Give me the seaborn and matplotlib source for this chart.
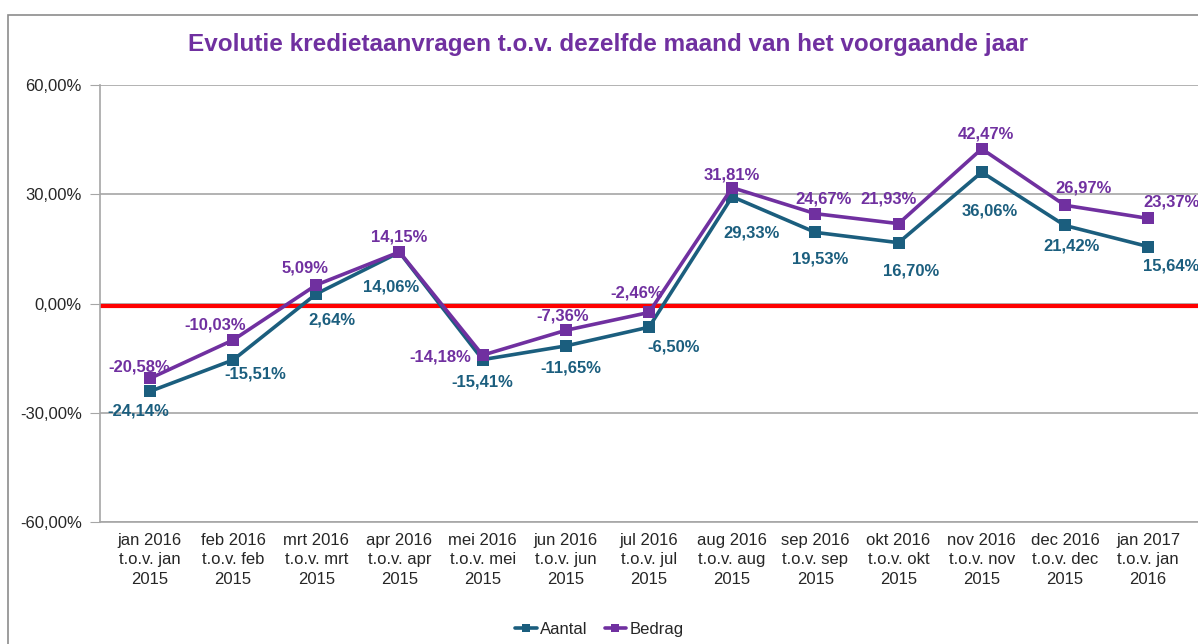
import pandas as pd
import matplotlib
matplotlib.use("Agg")
import matplotlib.pyplot as plt
import seaborn as sns
from matplotlib.patches import Rectangle

# Chart values
categories = [
    "jan 2016\nt.o.v. jan\n2015", "feb 2016\nt.o.v. feb\n2015", "mrt 2016\nt.o.v. mrt\n2015",
    "apr 2016\nt.o.v. apr\n2015", "mei 2016\nt.o.v. mei\n2015", "jun 2016\nt.o.v. jun\n2015",
    "jul 2016\nt.o.v. jul\n2015", "aug 2016\nt.o.v. aug\n2015", "sep 2016\nt.o.v. sep\n2015",
    "okt 2016\nt.o.v. okt\n2015", "nov 2016\nt.o.v. nov\n2015", "dec 2016\nt.o.v. dec\n2015",
    "jan 2017\nt.o.v. jan\n2016",
]
aantal = [-24.14, -15.51, 2.64, 14.06, -15.41, -11.65, -6.50, 29.33, 19.53, 16.70, 36.06, 21.42, 15.64]
bedrag = [-20.58, -10.03, 5.09, 14.15, -14.18, -7.36, -2.46, 31.81, 24.67, 21.93, 42.47, 26.97, 23.37]
y_ticks = [-60, -30, 0, 30, 60]
y_tick_labels = ["-60,00%", "-30,00%", "0,00%", "30,00%", "60,00%"]

title = "Evolutie kredietaanvragen t.o.v. dezelfde maand van het voorgaande jaar"
c_aantal = "#1b5e7e"
c_bedrag = "#7030a0"

df = pd.DataFrame({
    "x": list(range(len(categories))) * 2,
    "waarde": aantal + bedrag,
    "reeks": ["Aantal"] * len(aantal) + ["Bedrag"] * len(bedrag),
})

sns.set_style("white")
plt.rcParams["font.family"] = ["Liberation Sans", "DejaVu Sans"]

fig = plt.figure(figsize=(11.98, 6.44), dpi=100)
ax = fig.add_axes([100 / 1198, 1 - 522 / 644, 1 - 100 / 1198, (522 - 85) / 644])

# outer chart border
fig.patches.append(Rectangle((8 / 1198, -0.1), 1.2, 1 - 15 / 644 + 0.1, transform=fig.transFigure,
                             fill=False, edgecolor="#8c8c8c", linewidth=1.2))

for v in y_ticks:
    ax.axhline(v, color="#a6a6a6", linewidth=1.2, zorder=1)
ax.axhline(-0.6, color="#ff0000", linewidth=3, zorder=2)

sns.lineplot(data=df, x="x", y="waarde", hue="reeks", palette={"Aantal": c_aantal, "Bedrag": c_bedrag},
             marker="s", markersize=8, markeredgewidth=0, linewidth=2.6, ax=ax, zorder=3)

ax.set_xlim(-0.6, 12.6)
ax.set_ylim(-60, 60)
ax.set_xticks(range(len(categories)))
ax.set_xticklabels(categories, fontsize=12, linespacing=1.35)
ax.set_yticks(y_ticks)
ax.set_yticklabels(y_tick_labels, fontsize=12)
ax.tick_params(axis="y", length=7, color="#a6a6a6", pad=6, left=True)
ax.tick_params(axis="x", length=0, pad=8)
ax.set_xlabel("")
ax.set_ylabel("")
for s in ["top", "right"]:
    ax.spines[s].set_visible(False)
for s in ["left", "bottom"]:
    ax.spines[s].set_color("#a6a6a6")
    ax.spines[s].set_linewidth(1.2)

# data label offsets in pixels (dx, dy)
off_a = [(-12, -20), (22, -14), (16, -26), (-8, -35), (0, -22), (5, -22), (25, -20),
         (19, -36), (5, -27), (13, -28), (8, -39), (7, -21), (23, -19)]
off_b = [(-11, 11), (-18, 15), (-11, 17), (0, 15), (-42, -2), (-3, 14), (-12, 19),
         (0, 13), (8, 15), (-10, 25), (4, 15), (19, 17), (23, 16)]
for vals, offs, col in [(aantal, off_a, c_aantal), (bedrag, off_b, c_bedrag)]:
    for i, v in enumerate(vals):
        lbl = f"{v:.2f}%".replace(".", ",")
        ax.annotate(lbl, (i, v), xytext=offs[i], textcoords="offset pixels", ha="center", va="center",
                    fontsize=12, fontweight="bold", color=col, zorder=5, annotation_clip=False)

fig.text(608 / 1198, 1 - 45 / 644, title, ha="center", va="center", fontsize=17.5,
         fontweight="bold", color=c_bedrag)

ax.legend(loc="upper center", bbox_to_anchor=(0.455, -0.195), ncol=2, frameon=False, fontsize=12,
          handlelength=1.3, handletextpad=0.2, columnspacing=1.0, markerscale=0.8)

fig.savefig("out.png", dpi=100)
